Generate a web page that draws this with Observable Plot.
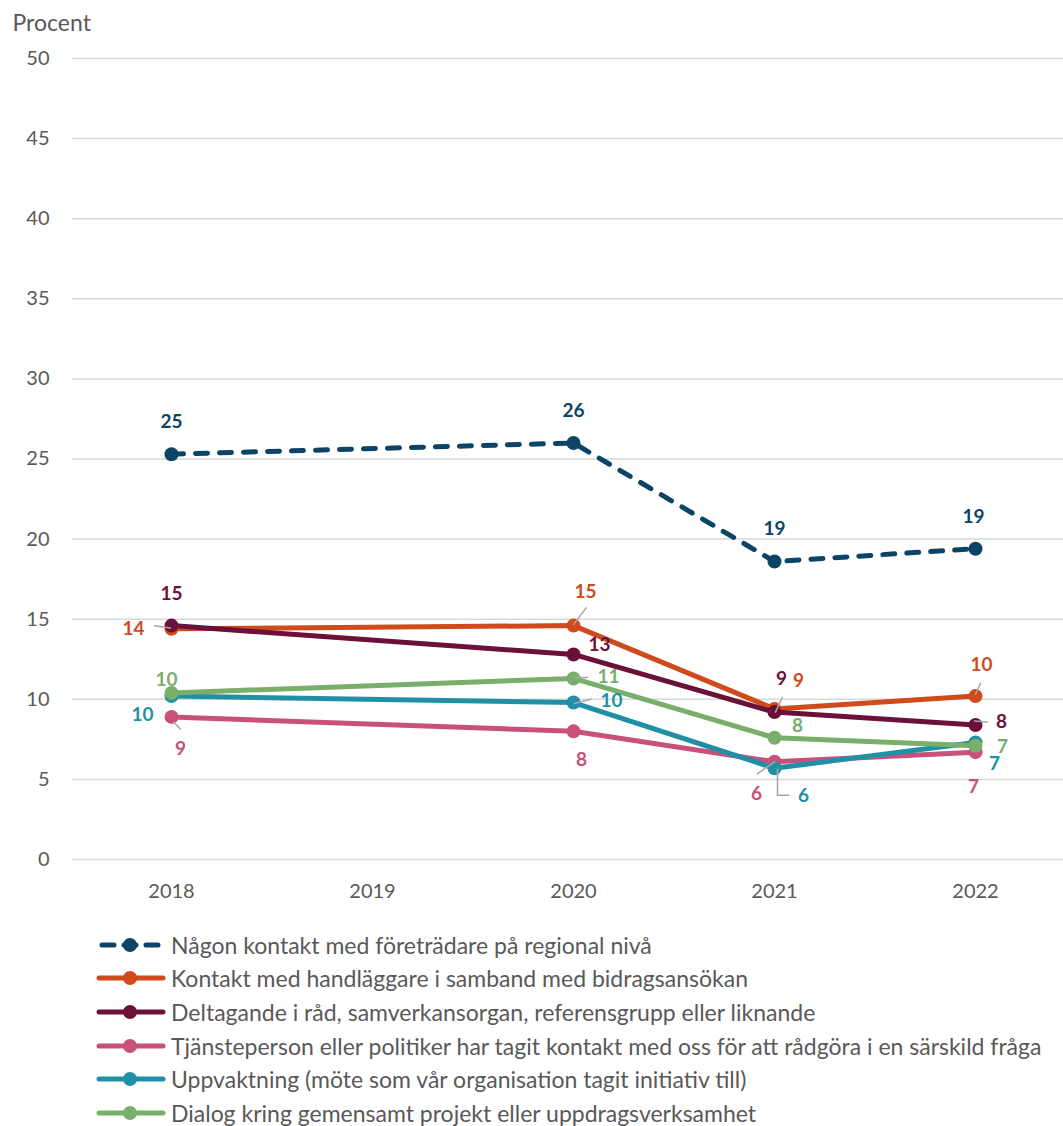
<!DOCTYPE html>
<html><head><meta charset="utf-8">
<script src="https://cdn.jsdelivr.net/npm/d3@7"></script>
<script src="https://cdn.jsdelivr.net/npm/@observablehq/plot@0.6"></script>
<style>
body{margin:0;background:#fff;font-family:Lato,sans-serif;color:#595959;}
#chart{width:1063px;}
#legend{padding-top:13px;}
.row{display:flex;align-items:center;height:33.6px;margin-left:96px;font-size:23px;color:#595959;white-space:nowrap;}
.row svg{flex:none;margin-right:5px;}
</style></head><body><div id="chart"></div><div id="legend"></div>
<script>
// ---- data ----
const years = ["2018", "2019", "2020", "2021", "2022"];
const dataYears = ["2018", "2020", "2021", "2022"];
const seriesNames = [
  "Någon kontakt med företrädare på regional nivå",
  "Kontakt med handläggare i samband med bidragsansökan",
  "Deltagande i råd, samverkansorgan, referensgrupp eller liknande",
  "Tjänsteperson eller politiker har tagit kontakt med oss för att rådgöra i en särskild fråga",
  "Uppvaktning (möte som vår organisation tagit initiativ till)",
  "Dialog kring gemensamt projekt eller uppdragsverksamhet"
];
const nagon = [25.3, 26.0, 18.6, 19.4];
const kontakt = [14.4, 14.6, 9.4, 10.2];
const deltagande = [14.6, 12.8, 9.2, 8.4];
const tjanste = [8.9, 8.0, 6.1, 6.7];
const uppvaktning = [10.2, 9.8, 5.7, 7.3];
const dialog = [10.4, 11.3, 7.6, 7.1];
const yTicks = [0, 5, 10, 15, 20, 25, 30, 35, 40, 45, 50];

// ---- styles / layout ----
const colors = ["#0D4466", "#CF4B1C", "#6B1038", "#C9507A", "#2190A6", "#7AAE6B"];
const dashed = [true, false, false, false, false, false];
// label offsets [dx, dy] in px per series per data year
const labelOffsets = [
  [[0, -32], [0, -32], [0, -33], [-2, -32]],
  [[-38, 0], [12, -34], [24, -28], [6, -31]],
  [[0, -32], [26, -10], [7, -33], [26, -3]],
  [[9, 32], [8, 29], [-18, 32], [-2, 35]],
  [[-29, 19], [38, -2], [29, 28], [19, 21]],
  [[-5, -13], [35, -2], [23, -12], [27, 1]]
];
// leader lines: [seriesIndex, yearIndex, startDx, startDy, rotate(deg), length]
const leaders = [
  [1, 0, -17, -3, 98, 16],
  [3, 0, 2, 5, 135, 10],
  [1, 1, 0, -1, 37, 21],
  [5, 1, 1, -1, 90, 13],
  [4, 1, 1, 1, 75, 17],
  [2, 2, 1, 0, 25, 16],
  [3, 2, 0, 0, 235, 21],
  [4, 2, 3, 1, 180, 26],
  [4, 2, 3, 27, 90, 11],
  [1, 3, 0, -2, 25, 12],
  [2, 3, -1, -4, 95, 13]
];

const seriesValues = [nagon, kontakt, deltagande, tjanste, uppvaktning, dialog];
const table = seriesValues.flatMap((vals, s) =>
  vals.map((v, i) => ({series: seriesNames[s], s, year: dataYears[i], i, value: v})));

const marks = [];
marks.push(Plot.ruleY(yTicks, {stroke: "#D9D9D9", strokeWidth: 1.5}));
marks.push(Plot.axisY(yTicks, {tickSize: 0, tickPadding: 23, fontSize: 20, fill: "#595959", label: null}));
marks.push(Plot.axisX(years, {tickSize: 0, tickPadding: 24, fontSize: 20, fill: "#595959", label: null}));
marks.push(Plot.text(["Procent"], {frameAnchor: "top-left", dx: -60, dy: -44, textAnchor: "start", fontSize: 23, fill: "#595959"}));

seriesNames.forEach((name, s) => {
  const d = table.filter(r => r.s === s);
  marks.push(Plot.line(d, {x: "year", y: "value", stroke: colors[s], strokeWidth: 5,
    strokeLinecap: "round", strokeLinejoin: "round", strokeDasharray: dashed[s] ? "12,12" : null}));
  marks.push(Plot.dot(d, {x: "year", y: "value", r: 7, fill: colors[s], stroke: null}));
});

const lineShape = {draw(context, l) { context.moveTo(0, 0); context.lineTo(0, -l); }};
leaders.forEach(([s, i, dx, dy, rot, len]) => {
  const d = table.filter(r => r.s === s && r.i === i);
  marks.push(Plot.vector(d, {x: "year", y: "value", dx, dy, rotate: rot, length: len,
    anchor: "start", shape: lineShape, stroke: "#A6A6A6", strokeWidth: 1.5}));
});

table.forEach(r => {
  const [dx, dy] = labelOffsets[r.s][r.i];
  marks.push(Plot.text([r], {x: "year", y: "value", text: d => String(Math.round(d.value)),
    dx, dy, fill: colors[r.s], fontSize: 19, fontWeight: "bold"}));
});

const chart = Plot.plot({
  width: 1063,
  height: 915,
  marginLeft: 72,
  marginRight: 0,
  marginTop: 58,
  marginBottom: 56,
  style: {fontFamily: "Lato, sans-serif", background: "#fff", overflow: "visible"},
  x: {type: "point", domain: years, range: [171, 975], padding: 0, axis: null},
  y: {domain: [0, 50], axis: null},
  marks
});
document.getElementById("chart").appendChild(chart);

const legend = document.getElementById("legend");
seriesNames.forEach((name, s) => {
  const row = document.createElement("div");
  row.className = "row";
  const dash = dashed[s] ? 'stroke-dasharray="12,10" stroke-dashoffset="-3"' : "";
  row.innerHTML = `<svg width="70" height="20"><line x1="3" y1="10" x2="67" y2="10" stroke="${colors[s]}" stroke-width="5" stroke-linecap="round" ${dash}/><circle cx="34" cy="10" r="7" fill="${colors[s]}"/></svg><span>${name}</span>`;
  legend.appendChild(row);
});
</script></body></html>
